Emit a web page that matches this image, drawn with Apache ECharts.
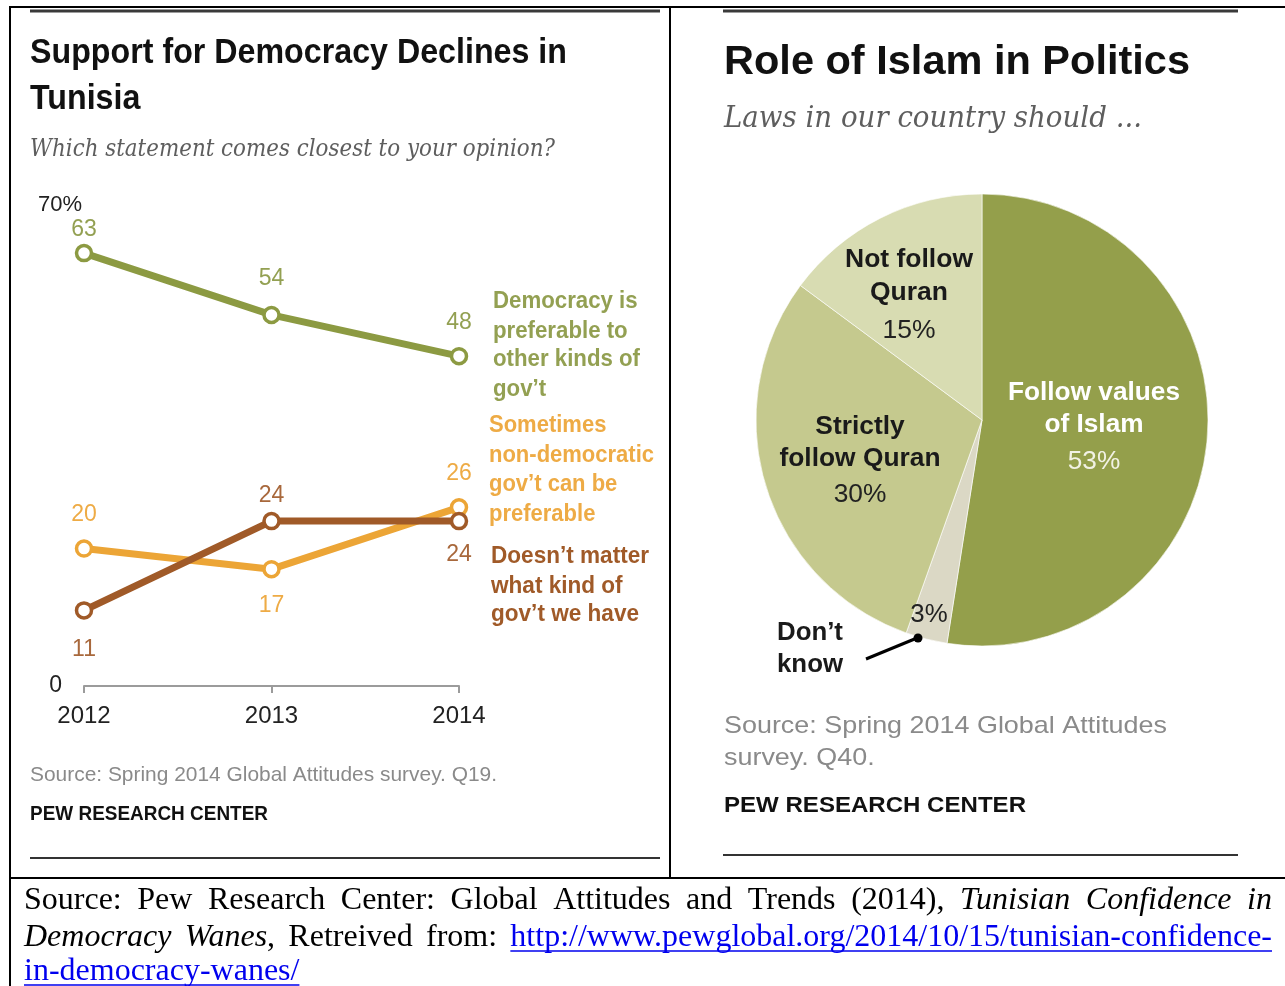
<!DOCTYPE html>
<html>
<head>
<meta charset="utf-8">
<script src="https://cdn.jsdelivr.net/npm/echarts@6/dist/echarts.min.js"></script>
<style>
html,body{margin:0;padding:0;background:#fff;}
#c{width:1285px;height:986px;}
</style>
</head>
<body>
<div id="c"></div>
<script>
// ---------------- DATA ----------------
const years = ['2012', '2013', '2014'];
const democracyPreferable = [63, 54, 48];
const nonDemocraticPreferable = [20, 17, 26];
const doesntMatter = [11, 24, 24];
const yTickLabels = {0: '0', 70: '70%'};

const pieNames = ['Follow values\nof Islam', 'Don\u2019t\nknow', 'Strictly\nfollow Quran', 'Not follow\nQuran'];
const pieValues = [53, 3, 30, 15];

const greenLabelLines = ['Democracy is', 'preferable to', 'other kinds of', 'gov\u2019t'];
const orangeLabelLines = ['Sometimes', 'non-democratic', 'gov\u2019t can be', 'preferable'];
const brownLabelLines = ['Doesn\u2019t matter', 'what kind of', 'gov\u2019t we have'];

// ---------------- STYLE ----------------
const GREEN = '#8c9a42', GREEN_TXT = '#93a052';
const ORANGE = '#eca536', ORANGE_TXT = '#eeab45';
const BROWN = '#a05a28', BROWN_TXT = '#a8683c';
const PIE_COLORS = ['#949f4b', '#dbd8c5', '#c5c98e', '#d8dcb2'];
const SANS = '"Liberation Sans", Arial, sans-serif';
const SERIF = '"DejaVu Serif", Georgia, serif';
const TIMES = '"Liberation Serif", "Times New Roman", serif';

const cv = document.createElement('canvas').getContext('2d');
function measure(text, size, family, weight, style) {
  cv.font = (style || 'normal') + ' ' + (weight || 'normal') + ' ' + size + 'px ' + family;
  return cv.measureText(text).width;
}

const g = [];
function T(text, x, y, o) {
  o = o || {};
  const size = o.size || 20, fam = o.family || SANS, wt = o.weight || 'normal', st = o.style || 'normal';
  let sx = 1;
  if (o.width) sx = o.width / measure(text, size, fam, wt, st);
  if (o.sx) sx = o.sx;
  const align = o.align || 'left';
  g.push({
    type: 'text', silent: true, x: x, y: y, scaleX: sx, z: 100,
    style: {
      text: text, x: 0, y: 0, fontSize: size, fontFamily: fam, fontWeight: wt, fontStyle: st,
      fill: o.color || '#000', align: align, textAlign: align,
      verticalAlign: 'middle', textVerticalAlign: 'middle'
    }
  });
  return sx;
}
function L(x1, y1, x2, y2, color, w) {
  g.push({type: 'line', silent: true, z: 100, shape: {x1: x1, y1: y1, x2: x2, y2: y2},
    style: {stroke: color, lineWidth: w}});
}

// frame
L(10, 7, 1285, 7, '#000', 2);
L(10, 6, 10, 986, '#000', 2);
L(670, 7, 670, 878, '#000', 2);
L(10, 878, 1285, 878, '#000', 2);
// panel rules
L(30, 11, 660, 11, '#3a3a3a', 3);
L(30, 858, 660, 858, '#333', 2);
L(723, 11, 1238, 11, '#3a3a3a', 3);
L(723, 855, 1238, 855, '#333', 2);

// ---------- left panel texts ----------
const sxTitle = T('Support for Democracy Declines in', 30, 53, {size: 35, weight: 'bold', width: 537, color: '#111'});
T('Tunisia', 30, 99, {size: 35, weight: 'bold', sx: sxTitle, color: '#111'});
T('Which statement comes closest to your opinion?', 30, 149, {size: 25, family: SERIF, style: 'italic', width: 525, color: '#5e5e5e'});

function group(lines, x, ys, color, widestIdx, widestW) {
  const sx = widestW / measure(lines[widestIdx], 24, SANS, 'bold');
  lines.forEach((t, i) => T(t, x, ys[i], {size: 24, weight: 'bold', sx: sx, color: color}));
}
group(greenLabelLines, 493, [301, 331, 359, 389], GREEN_TXT, 2, 147);
group(orangeLabelLines, 489, [425, 455, 484, 514], ORANGE_TXT, 1, 165);
group(brownLabelLines, 491, [556, 586, 614], BROWN, 0, 158);

T('Source: Spring 2014 Global Attitudes survey. Q19.', 30, 775, {size: 21, width: 467, color: '#8a8a8a'});
T('PEW RESEARCH CENTER', 30, 814, {size: 20, weight: 'bold', width: 238, color: '#111'});

// ---------- right panel texts ----------
T('Role of Islam in Politics', 724, 63, {size: 40, weight: 'bold', width: 466, color: '#111'});
T('Laws in our country should ...', 724, 119, {size: 29, family: SERIF, style: 'italic', width: 418, color: '#5e5e5e'});

function pieLabel(idx, cx, y1, pitch, yPct, color, pctColor, nameW) {
  const lines = pieNames[idx].split('\n');
  const widest = lines.reduce((a, b) => measure(a, 25, SANS, 'bold') > measure(b, 25, SANS, 'bold') ? a : b);
  const sx = nameW / measure(widest, 25, SANS, 'bold');
  lines.forEach((t, i) => T(t, cx, y1 + i * pitch, {size: 25, weight: 'bold', sx: sx, align: 'center', color: color}));
  T(pieValues[idx] + '%', cx, yPct, {size: 25, sx: sx, align: 'center', color: pctColor});
}
pieLabel(3, 909, 260, 33, 331, '#1a1a1a', '#222', 128);
pieLabel(0, 1094, 393, 32, 462, '#ffffff', '#f2f2e4', 172);
pieLabel(2, 860, 427, 32, 495, '#1a1a1a', '#222', 161);
// Don't know
(function () {
  const lines = pieNames[1].split('\n');
  const sx = 66 / measure(lines[1], 25, SANS, 'bold');
  lines.forEach((t, i) => T(t, 777, 633 + i * 32, {size: 25, weight: 'bold', sx: sx, color: '#1a1a1a'}));
  T(pieValues[1] + '%', 929, 615, {size: 25, sx: sx, align: 'center', color: '#222'});
})();
L(866, 659, 917, 638, '#000', 3);
g.push({type: 'circle', silent: true, z: 100, shape: {cx: 918, cy: 638, r: 4.5}, style: {fill: '#000'}});

T('Source: Spring 2014 Global Attitudes', 724, 726, {size: 24, width: 443, color: '#8a8a8a'});
const sxSrc = 443 / measure('Source: Spring 2014 Global Attitudes', 24, SANS, 'normal');
T('survey. Q40.', 724, 758, {size: 24, sx: sxSrc, color: '#8a8a8a'});
T('PEW RESEARCH CENTER', 724, 806, {size: 22, weight: 'bold', width: 302, color: '#111'});

// ---------- bottom caption (justified) ----------
const captionLines = [
  {y: 901, justify: true, segs: [['Source: Pew Research Center: Global Attitudes and Trends (2014), ', 'n'], ['Tunisian Confidence in', 'i']]},
  {y: 938, justify: true, segs: [['Democracy Wanes', 'i'], [', Retreived from: ', 'n'], ['http://www.pewglobal.org/2014/10/15/tunisian-confidence-', 'link']]},
  {y: 972, justify: false, segs: [['in-democracy-wanes/', 'link']]}
];
const CAP_SIZE = 32, CAP_L = 24, CAP_R = 1272;
captionLines.forEach(line => {
  const words = [[]];
  line.segs.forEach(([txt, kind]) => {
    txt.split(' ').forEach((part, j) => {
      if (j > 0) words.push([]);
      if (part) words[words.length - 1].push({t: part, k: kind});
    });
  });
  const ws = words.filter(w => w.length);
  const pw = p => measure(p.t, CAP_SIZE, TIMES, 'normal', p.k === 'i' ? 'italic' : 'normal');
  const widths = ws.map(w => w.reduce((s, p) => s + pw(p), 0));
  const total = widths.reduce((a, b) => a + b, 0);
  const gap = line.justify && ws.length > 1 ? (CAP_R - CAP_L - total) / (ws.length - 1) : measure(' ', CAP_SIZE, TIMES);
  let x = CAP_L;
  ws.forEach((w, i) => {
    w.forEach(p => {
      const wd = pw(p);
      const col = p.k === 'link' ? '#0000ee' : '#000';
      T(p.t, x, line.y, {size: CAP_SIZE, family: TIMES, style: p.k === 'i' ? 'italic' : 'normal', color: col});
      if (p.k === 'link') L(x, line.y + 13, x + wd, line.y + 13, '#0000ee', 1.5);
      x += wd;
    });
    x += gap;
  });
});

// ---------------- CHART ----------------
function pts(values, positions, dists, color) {
  return values.map((v, i) => ({
    value: v,
    label: {position: positions[i], distance: dists[i], color: color}
  }));
}
function lineSeries(name, values, color, txtColor, positions, dists, z) {
  return {
    type: 'line', name: name, z: z, silent: true,
    data: pts(values, positions, dists, txtColor),
    symbol: 'circle', symbolSize: 15,
    itemStyle: {color: '#fff', borderColor: color, borderWidth: 3.5},
    lineStyle: {color: color, width: 7},
    label: {show: true, fontSize: 23, fontFamily: SANS},
    emphasis: {disabled: true}
  };
}

const chart = echarts.init(document.getElementById('c'), null, {renderer: 'canvas'});
chart.setOption({
  animation: false,
  grid: {left: 84, top: 205, width: 375, height: 481, containLabel: false},
  xAxis: {
    type: 'category', data: years, boundaryGap: false,
    axisLine: {lineStyle: {color: '#9b9b9b', width: 2}},
    axisTick: {show: true, length: 7, lineStyle: {color: '#9b9b9b', width: 2}},
    axisLabel: {fontSize: 24, color: '#222', margin: 18, fontFamily: SANS},
    splitLine: {show: false}
  },
  yAxis: {
    type: 'value', min: 0, max: 70, interval: 70,
    axisLine: {show: false}, axisTick: {show: false}, splitLine: {show: false},
    axisLabel: {
      margin: 2, fontFamily: SANS,
      formatter: v => v === 70 ? '{a|' + yTickLabels[v] + '}' : '{b|' + yTickLabels[v] + '}',
      rich: {
        a: {fontSize: 22, color: '#222', fontFamily: SANS},
        b: {fontSize: 23, color: '#222', fontFamily: SANS, padding: [0, 20, 0, 0]}
      }
    }
  },
  series: [
    lineSeries('Democracy is preferable', democracyPreferable, GREEN, GREEN_TXT, ['top', 'top', 'top'], [3, 16, 13], 3),
    lineSeries('Sometimes non-democratic', nonDemocraticPreferable, ORANGE, ORANGE_TXT, ['top', 'bottom', 'top'], [13, 16, 13], 4),
    lineSeries('Doesn\'t matter', doesntMatter, BROWN, BROWN_TXT, ['bottom', 'top', 'bottom'], [18, 5, 13], 5),
    {
      type: 'pie', silent: true, center: [982, 420], radius: 226, startAngle: 90, clockwise: true,
      label: {show: false}, labelLine: {show: false},
      itemStyle: {borderColor: 'rgba(255,255,255,0.6)', borderWidth: 1},
      emphasis: {disabled: true},
      data: pieNames.map((n, i) => ({name: n, value: pieValues[i], itemStyle: {color: PIE_COLORS[i]}}))
    }
  ],
  graphic: {elements: g}
});
</script>
</body>
</html>
